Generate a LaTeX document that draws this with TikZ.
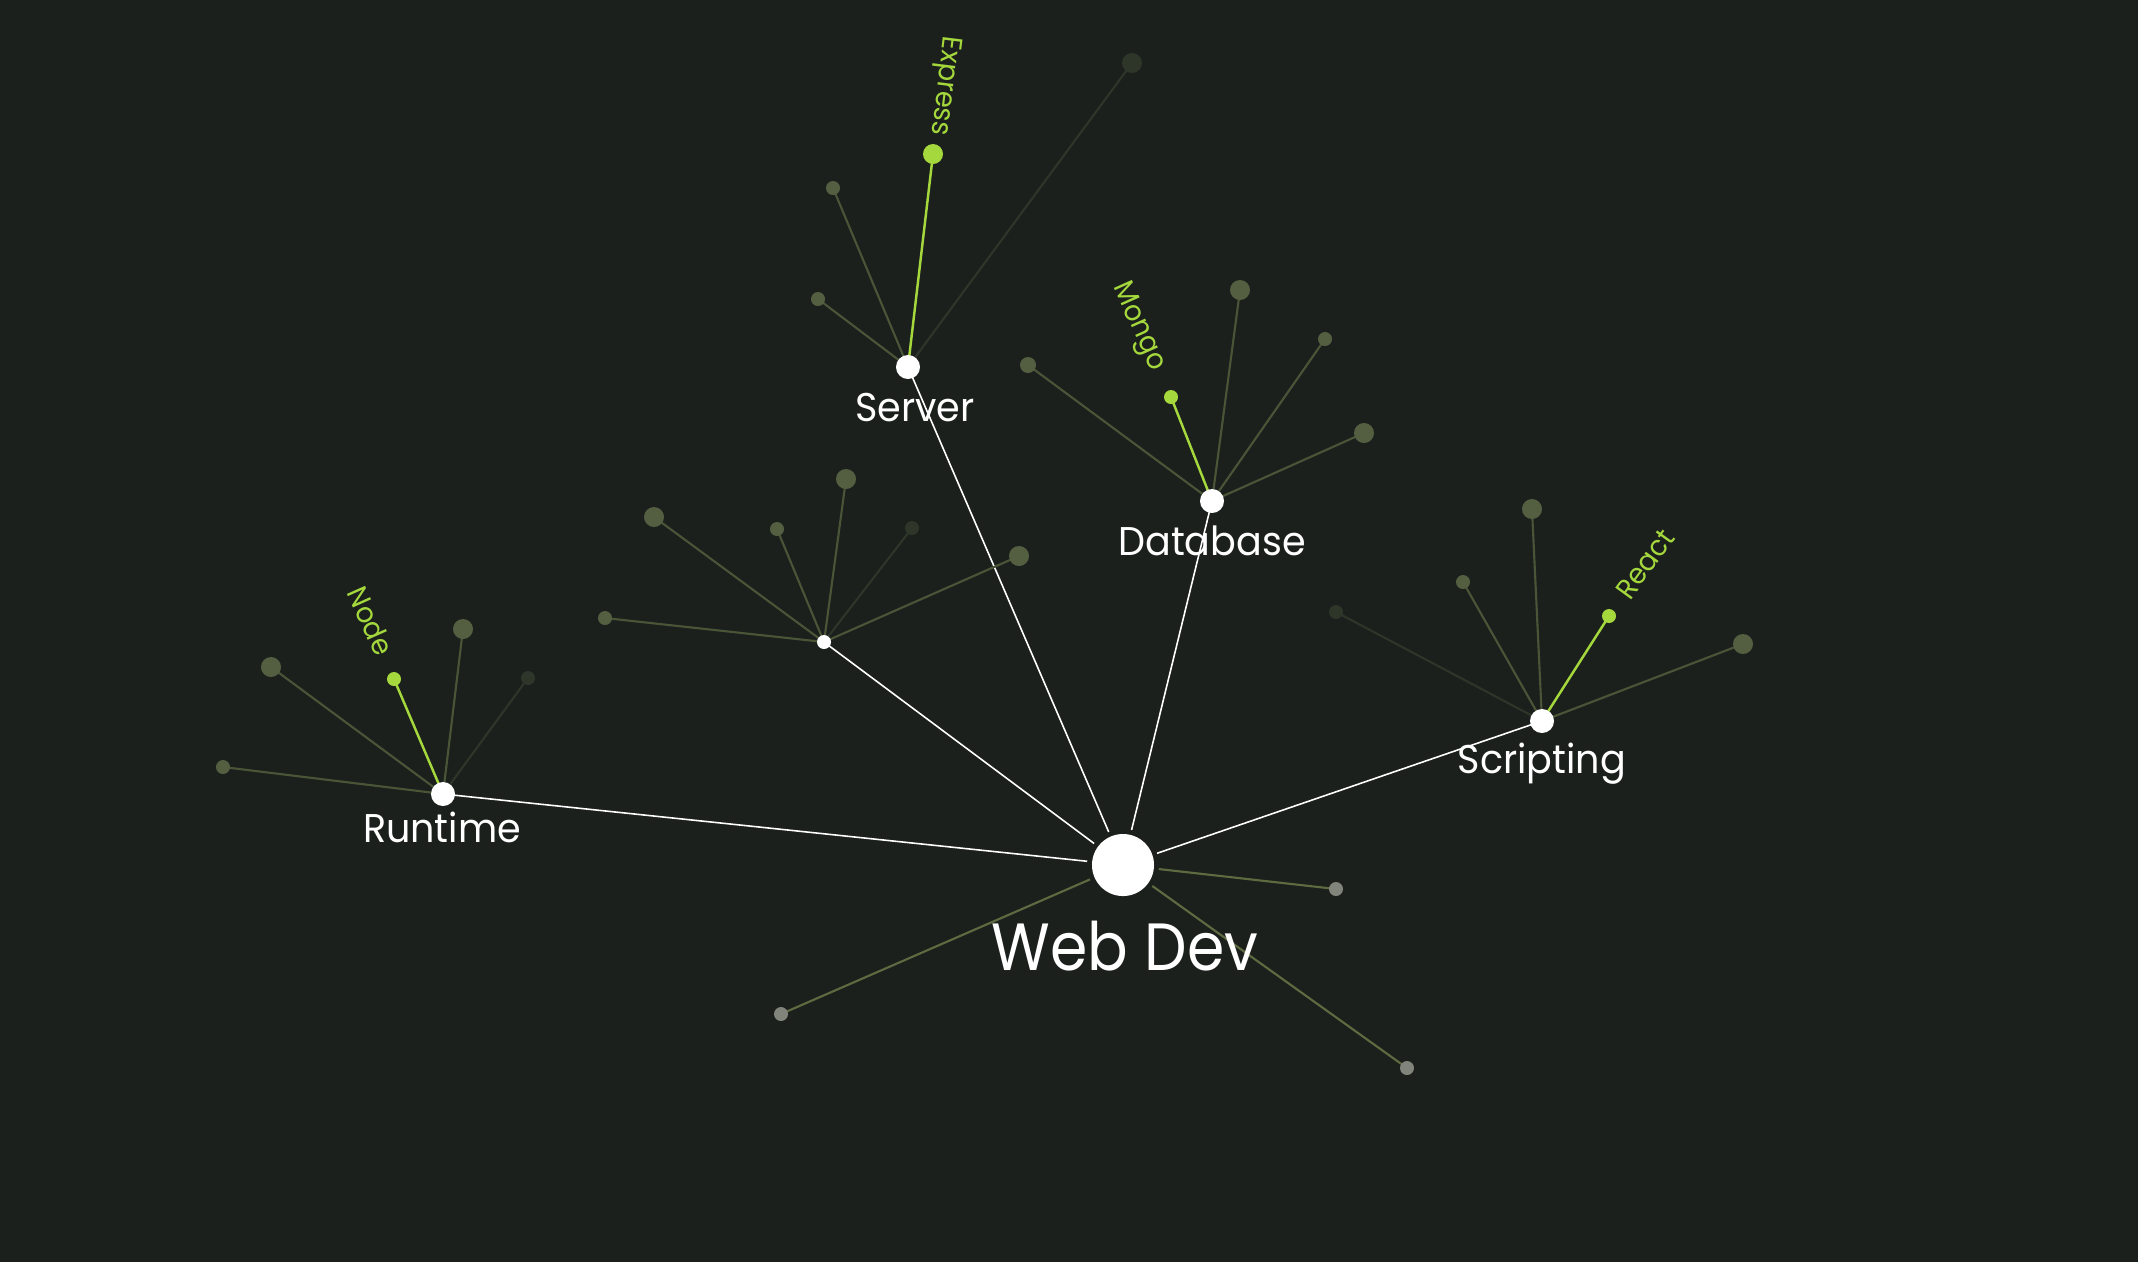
\documentclass[tikz,border=0pt]{standalone}
\usepackage{fontspec}
\setmainfont{Poppins}[FakeStretch=0.95]
\newfontfamily\webfont{Poppins}[FakeStretch=0.9]

\definecolor{bgdark}{HTML}{1B201D}
\definecolor{olive}{HTML}{545F42}
\definecolor{oliveline}{HTML}{4A5538}
\definecolor{darkleaf}{HTML}{2E3529}
\definecolor{lime}{HTML}{A4D83C}
\definecolor{greyleaf}{HTML}{80847A}
\definecolor{greyline}{HTML}{5E6B40}

\pgfdeclarelayer{back}
\pgfsetlayers{back,main}

\tikzset{
	dot/.style={circle, inner sep=0pt, minimum size=#1},
	webhub/.style={dot=0.62cm, fill=white, outer sep=0.05cm},
	hub/.style={dot=0.24cm, fill=white},
	smallhub/.style={dot=0.14cm, fill=white},
	leaf/.style={dot=#1, fill=olive},
	darkdot/.style={dot=#1, fill=darkleaf},
	limedot/.style={dot=#1, fill=lime},
	greydot/.style={dot=0.14cm, fill=greyleaf},
	mainedge/.style={draw=white, line width=0.45pt},
	leafedge/.style={draw=oliveline, line width=0.6pt},
	darkedge/.style={draw=darkleaf, line width=0.6pt},
	limeedge/.style={draw=lime, line width=0.7pt},
	greyedge/.style={draw=greyline, line width=0.6pt},
	hublabel/.style={text=white, font=\fontsize{11.4}{13}\selectfont, anchor=base},
	leaflabel/.style={text=lime, font=\fontsize{8.1}{9}\selectfont}
}

\begin{document}
\begin{tikzpicture}[x=0.01cm, y=-0.01cm]
	\begin{pgfonlayer}{back}
		\fill[bgdark] (0,0) rectangle (2138,1262);
	\end{pgfonlayer}
	\useasboundingbox (0,0) rectangle (2138,1262);

	% hubs
	\node[webhub] (web) at (1123,865) {};
	\node[hub] (srv) at (908,367) {};
	\node[hub] (db) at (1212,501) {};
	\node[hub] (rt) at (443,794) {};
	\node[hub] (scr) at (1542,721) {};
	\node[smallhub] (mid) at (824,642) {};

	% server leaves
	\node[limedot=0.2cm] (express) at (933,154) {};
	\node[leaf=0.14cm] (srv1) at (833,188) {};
	\node[leaf=0.14cm] (srv2) at (818,299) {};
	\node[darkdot=0.2cm] (srv3) at (1132,63) {};

	% database leaves
	\node[limedot=0.14cm] (mongo) at (1171,397) {};
	\node[leaf=0.16cm] (db1) at (1028,365) {};
	\node[leaf=0.2cm] (db2) at (1240,290) {};
	\node[leaf=0.14cm] (db3) at (1325,339) {};
	\node[leaf=0.2cm] (db4) at (1364,433) {};

	% runtime leaves
	\node[limedot=0.14cm] (nodejs) at (394,679) {};
	\node[leaf=0.2cm] (rt1) at (271,667) {};
	\node[leaf=0.2cm] (rt2) at (463,629) {};
	\node[darkdot=0.14cm] (rt3) at (528,678) {};
	\node[leaf=0.14cm] (rt4) at (223,767) {};

	% scripting leaves
	\node[limedot=0.14cm] (react) at (1609,616) {};
	\node[leaf=0.2cm] (scr1) at (1532,509) {};
	\node[leaf=0.14cm] (scr2) at (1463,582) {};
	\node[darkdot=0.14cm] (scr3) at (1336,612) {};
	\node[leaf=0.2cm] (scr4) at (1743,644) {};

	% unnamed hub leaves
	\node[leaf=0.14cm] (mid1) at (605,618) {};
	\node[leaf=0.2cm] (mid2) at (654,517) {};
	\node[leaf=0.14cm] (mid3) at (777,529) {};
	\node[leaf=0.2cm] (mid4) at (846,479) {};
	\node[darkdot=0.14cm] (mid5) at (912,528) {};
	\node[leaf=0.2cm] (mid6) at (1019,556) {};

	% web dev leaves
	\node[greydot] (web1) at (1336,889) {};
	\node[greydot] (web2) at (781,1014) {};
	\node[greydot] (web3) at (1407,1068) {};

	\begin{pgfonlayer}{back}
		\draw[mainedge] (web) -- (srv.center);
		\draw[mainedge] (web) -- (db.center);
		\draw[mainedge] (web) -- (rt.center);
		\draw[mainedge] (web) -- (scr.center);
		\draw[mainedge] (web) -- (mid.center);
		\draw[greyedge] (web) -- (web1.center);
		\draw[greyedge] (web) -- (web2.center);
		\draw[greyedge] (web) -- (web3.center);

		\draw[limeedge] (srv.center) -- (express.center);
		\draw[leafedge] (srv.center) -- (srv1.center);
		\draw[leafedge] (srv.center) -- (srv2.center);
		\draw[darkedge] (srv.center) -- (srv3.center);

		\draw[limeedge] (db.center) -- (mongo.center);
		\draw[leafedge] (db.center) -- (db1.center);
		\draw[leafedge] (db.center) -- (db2.center);
		\draw[leafedge] (db.center) -- (db3.center);
		\draw[leafedge] (db.center) -- (db4.center);

		\draw[limeedge] (rt.center) -- (nodejs.center);
		\draw[leafedge] (rt.center) -- (rt1.center);
		\draw[leafedge] (rt.center) -- (rt2.center);
		\draw[darkedge] (rt.center) -- (rt3.center);
		\draw[leafedge] (rt.center) -- (rt4.center);

		\draw[limeedge] (scr.center) -- (react.center);
		\draw[leafedge] (scr.center) -- (scr1.center);
		\draw[leafedge] (scr.center) -- (scr2.center);
		\draw[darkedge] (scr.center) -- (scr3.center);
		\draw[leafedge] (scr.center) -- (scr4.center);

		\draw[leafedge] (mid.center) -- (mid1.center);
		\draw[leafedge] (mid.center) -- (mid2.center);
		\draw[leafedge] (mid.center) -- (mid3.center);
		\draw[leafedge] (mid.center) -- (mid4.center);
		\draw[darkedge] (mid.center) -- (mid5.center);
		\draw[leafedge] (mid.center) -- (mid6.center);
	\end{pgfonlayer}

	% labels
	\node[text=white, font=\webfont\fontsize{19}{22}\selectfont, anchor=base] (weblabel) at (1125,970) {Web Dev};
	\node[hublabel] (srvlabel) at (915,421) {Server};
	\node[hublabel] (dblabel) at (1212,555) {Database};
	\node[hublabel] (rtlabel) at (442,842) {Runtime};
	\node[hublabel] (scrlabel) at (1542,773) {Scripting};

	\node[leaflabel, rotate=-97] (expresslabel) at (944,86) {Express};
	\node[leaflabel, rotate=-66] (mongolabel) at (1138,327) {Mongo};
	\node[leaflabel, rotate=-66] (nodelabel) at (371,621) {Node};
	\node[leaflabel, rotate=54] (reactlabel) at (1645,564) {React};
\end{tikzpicture}
\end{document}
